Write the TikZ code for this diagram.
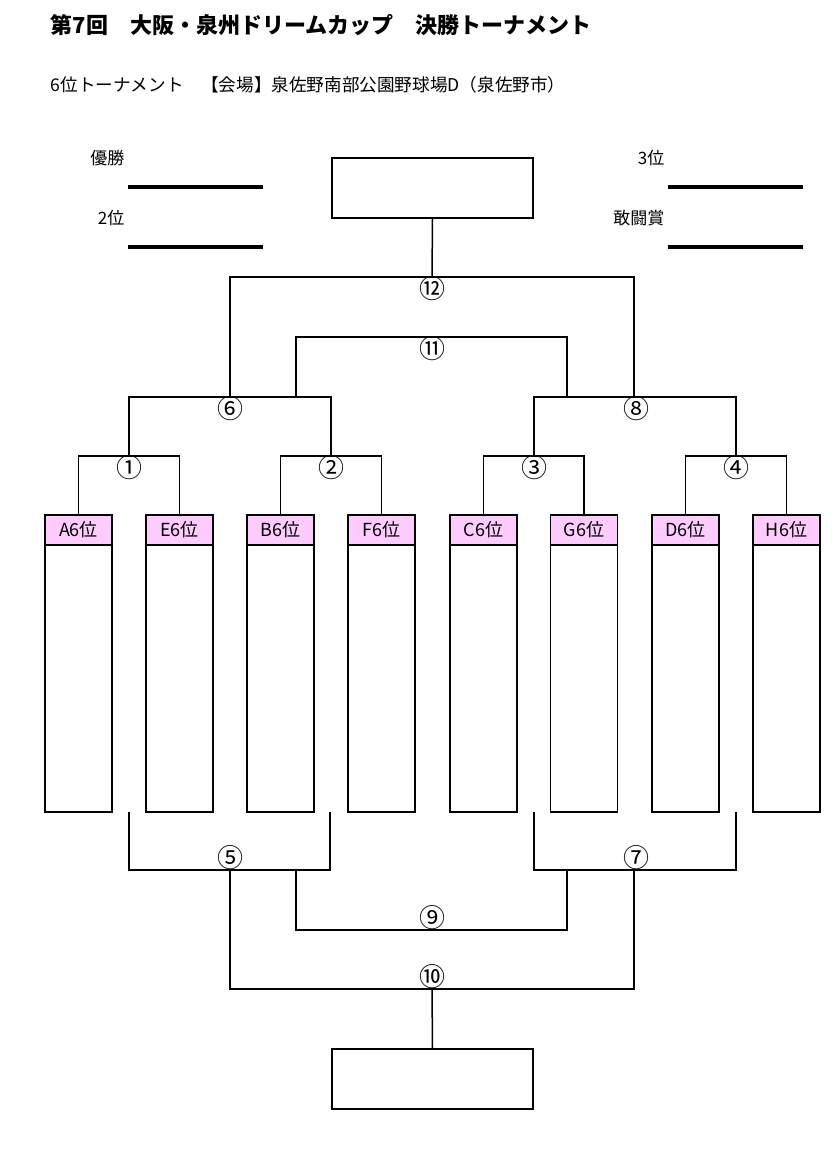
\documentclass[tikz,border=0pt]{standalone}
\usepackage{fontspec}
\setmainfont{Noto Sans CJK JP}
\usepackage{tikz}

\definecolor{labelpink}{RGB}{255,204,255}

\begin{document}
\begin{tikzpicture}
	[
	x=0.5pt, y=-0.5pt,
	line width=0.75pt,
	field/.style={line width=2pt},
	prize/.style={anchor=east, inner sep=0pt, font=\fontsize{8.5}{10}\selectfont},
	matchno/.style={inner sep=0pt, font=\fontsize{13}{14}\selectfont},
	teamlabel/.style={draw, fill=labelpink, minimum width=33.5pt, minimum height=15pt, inner sep=0pt, font=\fontsize{9}{10}\selectfont},
	teambody/.style={draw, minimum width=33.5pt, minimum height=133.5pt, inner sep=0pt},
	result/.style={draw, minimum width=100.5pt, minimum height=30pt, inner sep=0pt},
	]
		\useasboundingbox (0,0) rectangle (839,1156);

		% headings
		\node[anchor=west, inner sep=0pt, font=\bfseries\fontsize{11}{13}\selectfont] (title) at 	( 50,  25 ) {第7回　大阪・泉州ドリームカップ　決勝トーナメント};
		\node[anchor=west, inner sep=0pt, font=\fontsize{8.8}{10}\selectfont] (venue) at 	( 50,  85 ) {6位トーナメント　【会場】泉佐野南部公園野球場D（泉佐野市）};

		% prizes
		\node[prize] (pwin) at 		(125, 158 ) {優勝};
		\node[prize] (psec) at 		(125, 218 ) {2位};
		\node[prize] (pthi) at 		(665, 158 ) {3位};
		\node[prize] (pfig) at 		(665, 218 ) {敢闘賞};
		\foreach \x/\y in {128/187,128/247,668/187,668/247} \draw[field] (\x,\y) -- ++(135,0);

		% result boxes
		\node[result] (top) at 		(432.5, 188 ) {};
		\node[result] (bottom) at 	(432.5,1079 ) {};

		% teams
		\foreach \name/\x in {A/78.5,E/179.5,B/280.5,F/381.5,C/483.5,G/584,D/685.5,H/786.5}
		{
			\node[teamlabel] (l\name) at 	(\x, 530 ) {\name6位};
			\node[teambody] (b\name) at 	(\x, 678.5 ) {};
		}

		% upper side
		\coordinate (j1) at 		(129, 456 );
		\coordinate (j2) at 		(331, 456 );
		\coordinate (j3) at 		(534, 456 );
		\coordinate (j4) at 		(736, 456 );
		\coordinate (j6) at 		(230, 397 );
		\coordinate (j8) at 		(634, 397 );
		\coordinate (s6) at 		(296, 397 );
		\coordinate (s8) at 		(567, 397 );
		\coordinate (j11) at 		(432, 337 );
		\coordinate (j12) at 		(432, 277 );

		% lower side
		\coordinate (gAE) at 		(129, 812 );
		\coordinate (gBF) at 		(330, 812 );
		\coordinate (gCG) at 		(534, 812 );
		\coordinate (gDH) at 		(736, 812 );
		\coordinate (k5) at 		(230, 870 );
		\coordinate (k7) at 		(634, 870 );
		\coordinate (t5) at 		(296, 870 );
		\coordinate (t7) at 		(567, 870 );
		\coordinate (k9) at 		(432, 930 );
		\coordinate (k10) at 		(432, 989 );

		\foreach \from/\at/\to in {lA/j1/lE,lB/j2/lF,lC/j3/lG,lD/j4/lH} \draw (\from.north) |- (\at) -| (\to.north);
		\foreach \from/\at/\to in {j1/j6/j2,j3/j8/j4,s6/j11/s8,j6/j12/j8,gAE/k5/gBF,gCG/k7/gDH,t5/k9/t7,k5/k10/k7} \draw (\from) |- (\at) -| (\to);
		\draw (j12) -- (top.south);
		\draw (k10) -- (bottom.north);

		% match numbers
		\foreach \n/\x/\y/\t in {m1/129/468/①,m2/331/468/②,m3/534/468/③,m4/736/468/④,m5/230/858/⑤,m6/230/409/⑥,m7/636/858/⑦,m8/636/409/⑧,m9/432/918/⑨,m10/432/977/⑩,m11/432/349/⑪,m12/432/289/⑫}
			\node[matchno] (\n) at (\x,\y) {\t};

	\end{tikzpicture}
\end{document}
